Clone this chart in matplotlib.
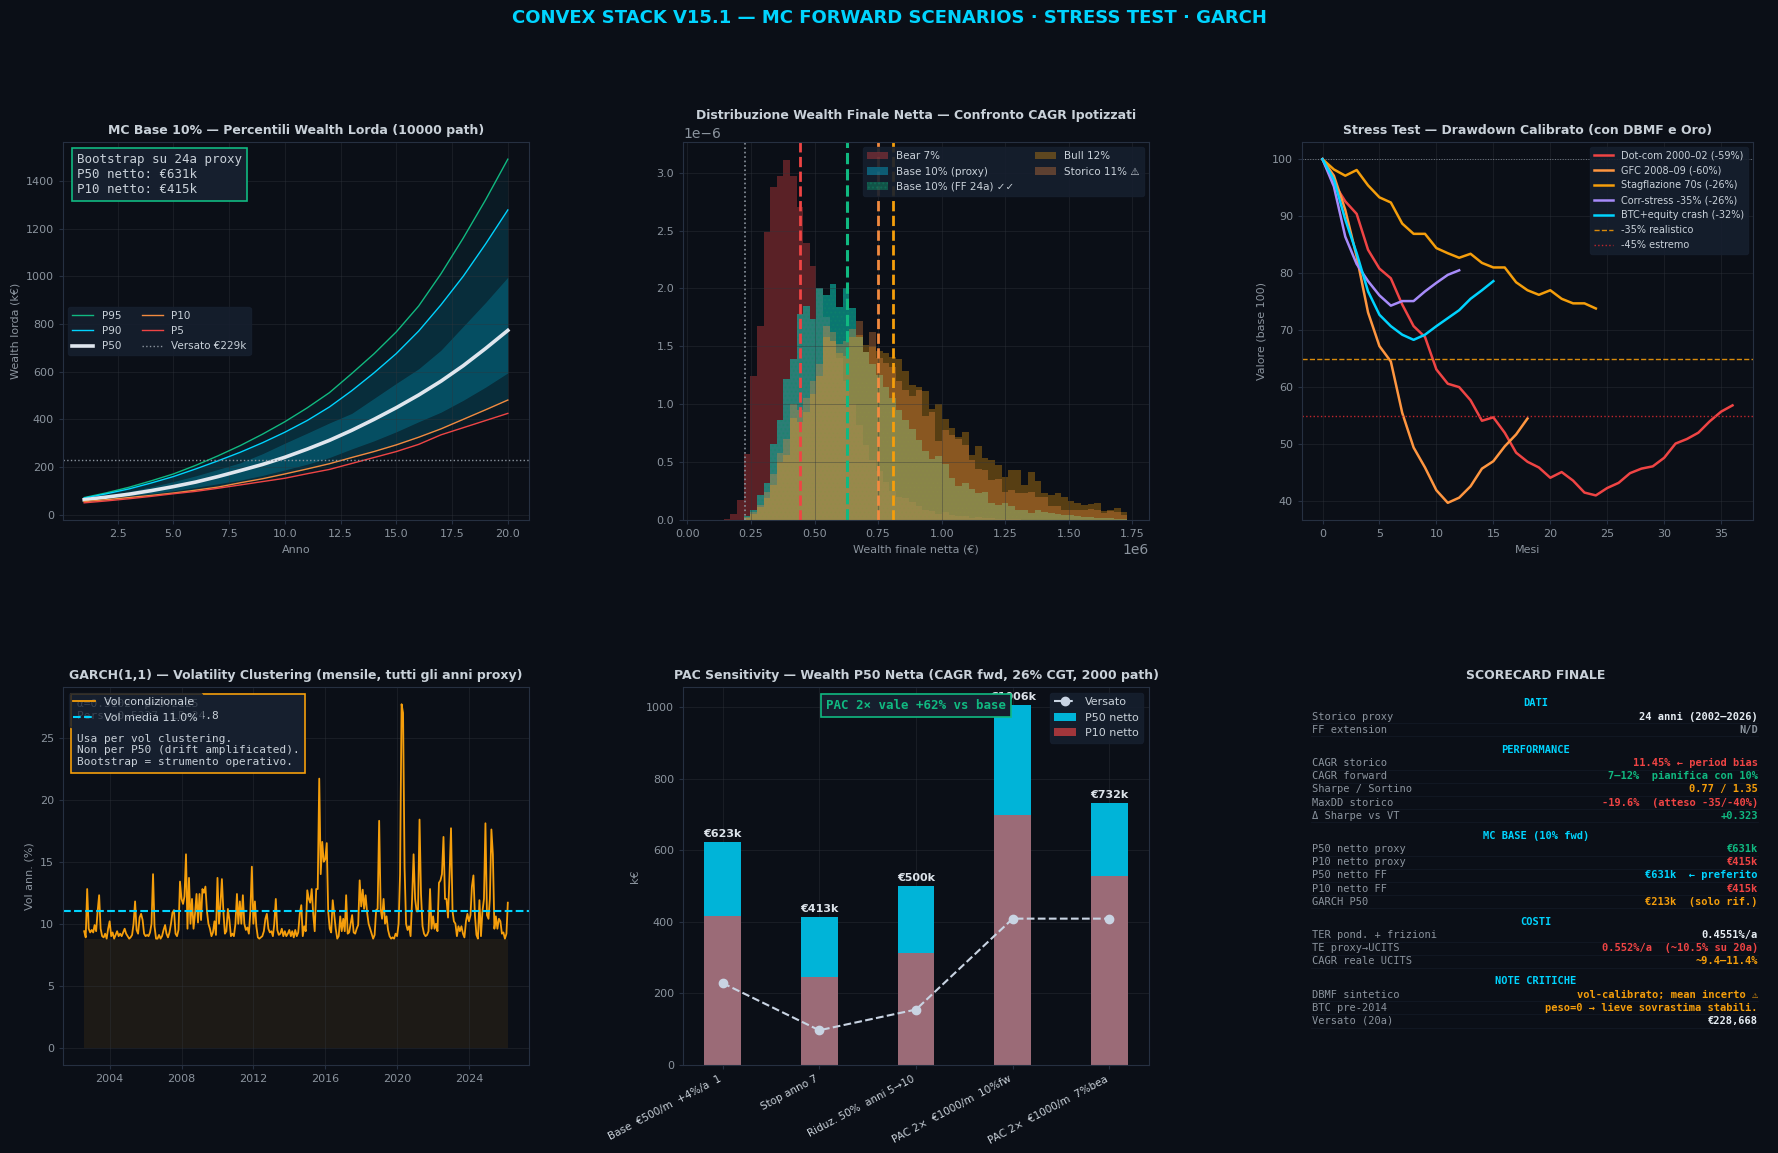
import numpy as np
import pandas as pd
import matplotlib
matplotlib.use("Agg")
import matplotlib.pyplot as plt

# ---------------- palette ----------------
BG = "#0b0f17"
FG = "#c9d1d9"
MUTED = "#8b949e"
SPINE = "#263041"
BOXBG = "#161f2e"
CYAN = "#00d4ff"
TEAL = "#00b4d8"
GREEN = "#10b981"
RED = "#ef4444"
ORANGE = "#f28a3f"
AMBER = "#f59e0b"
PURPLE = "#a78bfa"
WHITE = "#e6edf3"
MONO = ["DejaVu Sans Mono", "DejaVu Sans"]

# ---------------- data: MC percentiles (k€) ----------------
years = list(range(1, 21))
p95 = [72, 92, 115, 142, 171, 207, 247, 290, 338, 390, 448, 512, 592, 675, 767, 875, 1010, 1160, 1320, 1491]
p90 = [70, 88, 108, 133, 160, 192, 226, 262, 302, 346, 395, 452, 520, 595, 676, 770, 880, 1000, 1135, 1278]
p75 = [67, 80, 97, 117, 139, 163, 190, 218, 256, 300, 342, 385, 425, 488, 551, 612, 690, 790, 890, 996]
p50 = [63, 74, 86, 101, 118, 137, 160, 185, 211, 241, 275, 312, 354, 400, 449, 502, 560, 625, 697, 773]
p25 = [60, 69, 79, 89, 101, 115, 130, 145, 165, 188, 212, 240, 276, 310, 348, 390, 430, 480, 535, 595]
p10 = [55, 63, 72, 81, 91, 103, 116, 134, 151, 171, 192, 214, 240, 265, 293, 325, 360, 400, 440, 481]
p5 = [50, 58, 67, 77, 88, 98, 111, 125, 139, 153, 172, 190, 215, 240, 265, 295, 335, 365, 395, 425]
versato_k = 229

# ---------------- data: final wealth histograms (density, x1e-6) ----------------
hist_lo, hist_hi = 0.1435e6, 1.7295e6
bear_dens = [0.01, 0.05, 0.17, 0.57, 1.24, 1.68, 2.49, 2.88, 2.97, 3.11,
             2.97, 2.70, 2.39, 2.19, 2.00, 1.75, 1.55, 1.40, 1.20, 1.00,
             0.82, 0.65, 0.52, 0.42, 0.33, 0.25, 0.20, 0.19, 0.157, 0.12,
             0.086, 0.078, 0.052, 0.069, 0.043, 0.035, 0.035, 0.017, 0.026, 0.017,
             0.017, 0.009, 0.009, 0.005, 0.005, 0.004, 0.003, 0.002, 0.002, 0.001,
             0, 0, 0, 0, 0, 0, 0, 0, 0, 0, 0]
base_dens = [0, 0, 0, 0.035, 0.09, 0.22, 0.32, 0.66, 0.86, 1.22,
             1.39, 1.78, 1.85, 1.74, 2.00, 1.94, 2.04, 1.84, 2.00, 1.83,
             1.58, 1.45, 1.35, 1.25, 1.15, 1.05, 0.95, 0.86, 0.79, 0.69,
             0.60, 0.53, 0.55, 0.48, 0.36, 0.29, 0.32, 0.27, 0.23, 0.24,
             0.15, 0.13, 0.15, 0.12, 0.086, 0.086, 0.06, 0.086, 0.07, 0.06,
             0.052, 0.045, 0.04, 0.035, 0.03, 0.025, 0.02, 0.02, 0.015, 0.012, 0.01]
bull_dens = [0, 0, 0, 0.02, 0.05, 0.11, 0.19, 0.30, 0.50, 0.56,
             0.88, 0.85, 0.93, 1.09, 1.24, 1.58, 1.55, 1.44, 1.42, 1.58,
             1.60, 1.51, 1.50, 1.46, 1.44, 1.41, 1.39, 1.29, 1.17, 1.145,
             1.113, 0.958, 0.998, 0.872, 0.794, 0.719, 0.760, 0.561, 0.638, 0.535,
             0.518, 0.475, 0.368, 0.432, 0.432, 0.302, 0.414, 0.336, 0.233, 0.216,
             0.233, 0.198, 0.164, 0.147, 0.129, 0.138, 0.147, 0.078, 0.086, 0.104, 0.069]
storico_dens = [0, 0, 0, 0.03, 0.07, 0.13, 0.24, 0.40, 0.58, 0.70,
                1.00, 0.95, 1.05, 1.20, 1.35, 1.68, 1.62, 1.52, 1.55, 1.65,
                1.72, 1.45, 1.62, 1.40, 1.36, 1.32, 1.20, 1.12, 1.07, 1.12,
                0.90, 0.93, 0.68, 0.78, 0.73, 0.70, 0.65, 0.52, 0.44, 0.43,
                0.345, 0.354, 0.24, 0.26, 0.233, 0.233, 0.24, 0.198, 0.198, 0.12,
                0.12, 0.086, 0.09, 0.086, 0.086, 0.095, 0.086, 0.06, 0.078, 0.069, 0.043]
median_bear, median_base, median_storico, median_bull = 0.443e6, 0.628e6, 0.748e6, 0.809e6
versato_eur = 228668

# ---------------- data: stress test paths ----------------
dotcom = [100, 95.8, 92.6, 90.4, 84.1, 80.8, 79.1, 74.5, 70.7, 68.8, 63.1, 60.6, 60.0,
          57.7, 54.1, 54.7, 52.0, 48.5, 46.9, 45.9, 44.1, 45.1, 43.6, 41.5, 41.0,
          42.3, 43.2, 44.9, 45.7, 46.1, 47.6, 50.1, 50.9, 52.0, 54.0, 55.7, 56.8]
gfc = [100, 97.1, 91.1, 82.9, 73.1, 67.2, 64.5, 55.5, 49.4, 45.9, 41.9, 39.7, 40.6,
       42.6, 45.7, 47.0, 49.6, 51.7, 54.5]
stagflazione = [100, 98.2, 97.1, 98.1, 95.4, 93.3, 92.4, 88.7, 86.9, 86.9, 84.4, 83.5, 82.7,
                83.4, 81.8, 81.0, 81.0, 78.4, 77.0, 76.2, 77.0, 75.5, 74.7, 74.7, 73.8]
corr_stress = [100, 95.2, 86.4, 81.6, 78.6, 76.1, 74.3, 75.1, 75.1, 76.8, 78.3, 79.7, 80.5]
btc_crash = [100, 96.4, 89.4, 83.5, 76.8, 72.7, 70.7, 69.2, 68.3, 69.2, 70.7, 72.1, 73.5,
             75.5, 77.0, 78.6]
dd_realistico, dd_estremo = 65, 55

# ---------------- data: GARCH monthly conditional vol (%), Aug 2002 - Mar 2026 ----------------
vol_cond = (
    [9.4, 8.9, 12.8, 9.6, 9.3]
    + [9.5, 9.3, 9.9, 9.4, 11.0, 12.3, 9.6, 9.0, 8.9, 9.2, 8.8, 9.6]
    + [10.2, 9.0, 9.3, 8.8, 9.1, 9.4, 9.0, 9.2, 9.0, 9.3, 9.6, 9.2]
    + [9.0, 8.8, 8.9, 9.1, 10.0, 11.8, 9.5, 9.2, 10.5, 10.8, 10.3, 9.2]
    + [9.0, 9.1, 9.0, 9.3, 10.0, 14.0, 9.8, 8.8, 8.8, 9.1, 8.8, 9.0]
    + [9.5, 9.9, 9.2, 8.9, 9.3, 10.0, 10.9, 11.1, 9.2, 9.0, 9.5, 13.4]
    + [12.0, 11.6, 12.2, 15.6, 9.6, 13.7, 10.0, 12.0, 9.6, 10.8, 12.4, 10.1]
    + [12.4, 10.3, 12.8, 12.5, 13.0, 11.0, 10.0, 9.6, 9.0, 9.3, 10.2, 9.1]
    + [13.7, 10.0, 11.5, 13.6, 11.0, 9.2, 9.4, 11.2, 10.3, 9.0, 9.2, 9.0]
    + [10.0, 12.4, 10.0, 11.8, 10.0, 12.3, 10.0, 9.5, 9.7, 9.2, 11.0, 14.6]
    + [10.0, 11.8, 9.8, 8.9, 8.8, 8.9, 9.0, 9.4, 10.4, 10.8, 9.6, 9.3]
    + [9.4, 9.0, 10.0, 12.0, 9.5, 9.1, 9.2, 9.6, 9.0, 9.4, 9.0, 9.2]
    + [9.5, 9.0, 9.4, 8.9, 9.5, 9.0, 9.3, 10.8, 11.5, 9.0, 9.8, 9.4]
    + [12.7, 12.0, 11.7, 12.8, 10.8, 9.4, 12.8, 12.8, 21.7, 14.0, 16.6, 15.0]
    + [15.2, 16.5, 11.0, 9.6, 9.3, 11.9, 10.8, 9.6, 8.8, 9.0, 10.6, 9.4]
    + [10.4, 9.4, 12.3, 9.2, 9.3, 10.0, 10.7, 9.3, 9.2, 9.6, 9.9, 13.5]
    + [11.4, 12.75, 11.2, 12.3, 10.9, 10.0, 9.6, 9.2, 8.8, 9.1, 11.1, 11.2]
    + [18.3, 11.2, 10.4, 12.0, 10.0, 10.6, 9.5, 9.0, 8.8, 8.9, 8.8, 9.2]
    + [9.0, 10.0, 14.0, 27.7, 27.0, 14.5, 10.0, 9.5, 9.8, 9.0, 12.0, 15.6]
    + [12.0, 11.0, 11.0, 18.4, 12.4, 9.8, 9.2, 9.0, 9.1, 9.4, 12.8, 9.6]
    + [10.6, 9.6, 10.0, 9.4, 13.3, 13.5, 14.0, 17.0, 12.0, 12.0, 10.5, 13.8]
    + [17.7, 11.0, 10.2, 10.0, 9.0, 9.8, 9.4, 9.8, 9.2, 8.9, 10.2, 10.8]
    + [10.2, 10.7, 13.0, 13.9, 10.7, 9.1, 8.8, 11.9, 9.0, 11.0, 12.0, 18.1]
    + [10.7, 10.4, 12.0, 17.6, 15.6, 9.6, 10.6, 9.6, 10.4, 10.2, 9.2, 9.3]
    + [8.8, 9.2, 11.7]
)
vol_start = "2002-08-01"
vol_mean = 11.0

# ---------------- data: PAC sensitivity (k€) ----------------
scen_labels = ["Base  €500/m  +4%/a  1", "Stop anno 7", "Riduz. 50%  anni 5→10",
               "PAC 2×  €1000/m  10%fw", "PAC 2×  €1000/m  7%bea"]
pac_p50 = [623, 413, 500, 1006, 732]
pac_p10 = [415, 246, 313, 699, 527]
pac_versato = [229, 97, 155, 409, 409]

# ---------------- data: scorecard ----------------
score_rows = [
    ("DATI", None, None),
    ("Storico proxy", "24 anni (2002–2026)", WHITE),
    ("FF extension", "N/D", MUTED),
    ("PERFORMANCE", None, None),
    ("CAGR storico", "11.45% ← period bias", RED),
    ("CAGR forward", "7–12%  pianifica con 10%", GREEN),
    ("Sharpe / Sortino", "0.77 / 1.35", AMBER),
    ("MaxDD storico", "-19.6%  (atteso -35/-40%)", RED),
    ("Δ Sharpe vs VT", "+0.323", GREEN),
    ("MC BASE (10% fwd)", None, None),
    ("P50 netto proxy", "€631k", GREEN),
    ("P10 netto proxy", "€415k", RED),
    ("P50 netto FF", "€631k  ← preferito", CYAN),
    ("P10 netto FF", "€415k", RED),
    ("GARCH P50", "€213k  (solo rif.)", AMBER),
    ("COSTI", None, None),
    ("TER pond. + frizioni", "0.4551%/a", WHITE),
    ("TE proxy→UCITS", "0.552%/a  (~10.5% su 20a)", RED),
    ("CAGR reale UCITS", "~9.4–11.4%", AMBER),
    ("NOTE CRITICHE", None, None),
    ("DBMF sintetico", "vol-calibrato; mean incerto ⚠", AMBER),
    ("BTC pre-2014", "peso=0 → lieve sovrastima stabili.", AMBER),
    ("Versato (20a)", "€228,668", WHITE),
]

# ---------------- style ----------------
plt.rcParams.update({
    "figure.facecolor": BG,
    "axes.facecolor": BG,
    "axes.edgecolor": SPINE,
    "axes.labelcolor": MUTED,
    "axes.titlecolor": FG,
    "xtick.color": MUTED,
    "ytick.color": MUTED,
    "text.color": FG,
    "grid.color": "#30363d",
    "grid.alpha": 0.45,
    "grid.linewidth": 0.6,
    "legend.facecolor": BOXBG,
    "legend.edgecolor": BOXBG,
    "legend.labelcolor": FG,
})

W, H = 1778, 1153
fig = plt.figure(figsize=(W / 100, H / 100), dpi=100)


def rect(x0, y0, x1, y1):
    return [x0 / W, 1 - y1 / H, (x1 - x0) / W, (y1 - y0) / H]


def style(ax, title):
    ax.set_title(title, fontsize=9, fontweight="bold", color=FG, pad=6)
    ax.tick_params(labelsize=8, length=3, color=SPINE)
    ax.grid(True)
    for s in ax.spines.values():
        s.set_color(SPINE)


fig.text(0.5, 0.984, "CONVEX STACK V15.1 — MC FORWARD SCENARIOS · STRESS TEST · GARCH",
         ha="center", va="center", fontsize=13, fontweight="bold", color=CYAN)

# ---- 1. MC percentiles ----
ax1 = fig.add_axes(rect(63, 142, 529, 520))
ax1.fill_between(years, p5, p95, color=TEAL, alpha=0.07, lw=0)
ax1.fill_between(years, p10, p90, color=TEAL, alpha=0.13, lw=0)
ax1.fill_between(years, p25, p75, color=TEAL, alpha=0.25, lw=0)
ax1.plot(years, p95, color=GREEN, lw=1, label="P95")
ax1.plot(years, p90, color=CYAN, lw=1, label="P90")
ax1.plot(years, p50, color="#dfe6ee", lw=2.6, label="P50")
ax1.plot(years, p10, color=ORANGE, lw=1, label="P10")
ax1.plot(years, p5, color=RED, lw=1, label="P5")
ax1.axhline(versato_k, color=MUTED, ls=":", lw=1, label=f"Versato €{versato_k}k")
style(ax1, "MC Base 10% — Percentili Wealth Lorda (10000 path)")
ax1.set_xlabel("Anno", fontsize=8)
ax1.set_ylabel("Wealth lorda (k€)", fontsize=8)
ax1.legend(loc="center left", ncol=2, fontsize=7.5, framealpha=0.9)
ax1.text(0.03, 0.97, "Bootstrap su 24a proxy\nP50 netto: €631k\nP10 netto: €415k",
         transform=ax1.transAxes, va="top", ha="left", fontsize=9, family=MONO, color=FG,
         bbox=dict(boxstyle="square,pad=0.4", facecolor=BOXBG, edgecolor=GREEN, lw=1.2))

# ---- 2. histograms ----
ax2 = fig.add_axes(rect(683, 142, 1149, 520))
edges = np.linspace(hist_lo, hist_hi, len(bear_dens) + 1)
centers = (edges[:-1] + edges[1:]) / 2
ax2.hist(centers, bins=edges, weights=np.array(bear_dens) * 1e-6, color=RED, alpha=0.35, label="Bear 7%")
ax2.hist(centers, bins=edges, weights=np.array(base_dens) * 1e-6, color=CYAN, alpha=0.35, label="Base 10% (proxy)")
ax2.hist(centers, bins=edges, weights=np.array(base_dens) * 1e-6, facecolor=GREEN, alpha=0.35,
         hatch="....", edgecolor="#0f8a68", lw=0, label="Base 10% (FF 24a) ✓✓")
ax2.hist(centers, bins=edges, weights=np.array(bull_dens) * 1e-6, color=AMBER, alpha=0.33, label="Bull 12%")
ax2.hist(centers, bins=edges, weights=np.array(storico_dens) * 1e-6, color=ORANGE, alpha=0.33, label="Storico 11% ⚠")
ax2.axvline(versato_eur, color=MUTED, ls=":", lw=1.2)
ax2.axvline(median_bear, color=RED, ls="--", lw=2)
ax2.axvline(median_base, color=GREEN, ls="--", lw=2.2)
ax2.axvline(median_storico, color=ORANGE, ls="--", lw=2)
ax2.axvline(median_bull, color=AMBER, ls="--", lw=2)
ax2.set_xlim(-0.017e6, 1.815e6)
ax2.set_ylim(0, 3.265e-6)
style(ax2, "Distribuzione Wealth Finale Netta — Confronto CAGR Ipotizzati")
ax2.set_xlabel("Wealth finale netta (€)", fontsize=8)
ax2.legend(loc="upper right", ncol=2, fontsize=7.5, framealpha=0.9)

# ---- 3. stress test ----
ax3 = fig.add_axes(rect(1302, 142, 1753, 520))
ax3.plot(range(len(dotcom)), dotcom, color=RED, lw=1.8, label="Dot-com 2000–02 (-59%)")
ax3.plot(range(len(gfc)), gfc, color="#ff9640", lw=1.8, label="GFC 2008–09 (-60%)")
ax3.plot(range(len(stagflazione)), stagflazione, color=AMBER, lw=1.8, label="Stagflazione 70s (-26%)")
ax3.plot(range(len(corr_stress)), corr_stress, color=PURPLE, lw=1.8, label="Corr-stress -35% (-26%)")
ax3.plot(range(len(btc_crash)), btc_crash, color=CYAN, lw=1.8, label="BTC+equity crash (-32%)")
ax3.axhline(dd_realistico, color="#d98a0b", ls="--", lw=1, label="-35% realistico")
ax3.axhline(dd_estremo, color="#c0262d", ls=":", lw=1, label="-45% estremo")
ax3.axhline(100, color=MUTED, ls=":", lw=0.7, alpha=0.8)
style(ax3, "Stress Test — Drawdown Calibrato (con DBMF e Oro)")
ax3.set_xlabel("Mesi", fontsize=8)
ax3.set_ylabel("Valore (base 100)", fontsize=8)
ax3.legend(loc="upper right", fontsize=7, framealpha=0.9)

# ---- 4. GARCH ----
ax4 = fig.add_axes(rect(63, 687, 529, 1065))
dates = pd.date_range(vol_start, periods=len(vol_cond), freq="MS")
ax4.fill_between(dates, 0, min(vol_cond), color=AMBER, alpha=0.08, lw=0)
ax4.plot(dates, vol_cond, color=AMBER, lw=1.3, label="Vol condizionale")
ax4.axhline(vol_mean, color=CYAN, ls="--", lw=1.5, label=f"Vol media {vol_mean:.1f}%")
style(ax4, "GARCH(1,1) — Volatility Clustering (mensile, tutti gli anni proxy)")
ax4.set_ylabel("Vol ann. (%)", fontsize=8)
ax4.text(0.03, 0.968, "α=0.3102  β=0.2125\nPers.=0.5227  LR=24.8\n\nUsa per vol clustering.\n"
         "Non per P50 (drift amplificated).\nBootstrap = strumento operativo.",
         transform=ax4.transAxes, va="top", ha="left", fontsize=8, family=MONO, color=FG,
         bbox=dict(boxstyle="square,pad=0.5", facecolor=BOXBG, edgecolor=AMBER, lw=1.2))
ax4.legend(loc="upper left", fontsize=8, framealpha=0.8)

# ---- 5. PAC sensitivity ----
ax5 = fig.add_axes(rect(683, 687, 1149, 1065))
ax5.set_axisbelow(True)
xpos = np.arange(len(scen_labels))
ax5.plot(xpos, pac_versato, ls="--", color="#c9d4e3", lw=1.5, marker="o", ms=6, label="Versato")
ax5.bar(xpos, pac_p50, width=0.38, color=TEAL, label="P50 netto")
ax5.bar(xpos, pac_p10, width=0.38, color=RED, alpha=0.65, label="P10 netto")
for xi, v in zip(xpos, pac_p50):
    ax5.text(xi, v + 8, f"€{v}k", ha="center", va="bottom", fontsize=8, fontweight="bold", color="#dde3ea")
ax5.set_xticks(xpos)
ax5.set_xticklabels(scen_labels, rotation=28, ha="right", fontsize=7.5)
style(ax5, "PAC Sensitivity — Wealth P50 Netta (CAGR fwd, 26% CGT, 2000 path)")
ax5.tick_params(axis="x", labelsize=7.5, labelcolor=FG)
ax5.set_ylabel("k€", fontsize=8)
ax5.legend(loc="upper right", fontsize=8, framealpha=0.9)
ax5.text(0.5, 0.952, "PAC 2× vale +62% vs base", transform=ax5.transAxes, ha="center", va="center",
         fontsize=9, fontweight="bold", family=MONO, color=GREEN, zorder=10,
         bbox=dict(boxstyle="square,pad=0.4", facecolor=BOXBG, edgecolor=GREEN, lw=1.2))

# ---- 6. scorecard ----
ax6 = fig.add_axes(rect(1302, 687, 1770, 1065))
ax6.axis("off")
ax6.set_xlim(0, 1)
ax6.set_ylim(0, 1)
ax6.set_title("SCORECARD FINALE", fontsize=9, fontweight="bold", color=FG, pad=6)
ypix = 703.3
first = True
for label, value, col in score_rows:
    if value is None:
        if not first:
            ypix += 20 - 13.2
        y = (1065 - ypix) / 378
        ax6.text(0.5, y, label, ha="center", va="center", fontsize=7.5, fontweight="bold",
                 family=MONO, color=CYAN)
    else:
        y = (1065 - ypix) / 378
        ax6.text(0.021, y, label, ha="left", va="center", fontsize=7.5, family=MONO, color=MUTED)
        ax6.text(0.974, y, value, ha="right", va="center", fontsize=7.5, fontweight="bold",
                 family=MONO, color=col)
        ax6.plot([0.02, 0.975], [y - 6.6 / 378] * 2, color="#131925", lw=0.6)
    first = False
    ypix += 13.2

fig.savefig("out.png", dpi=100, facecolor=BG)
